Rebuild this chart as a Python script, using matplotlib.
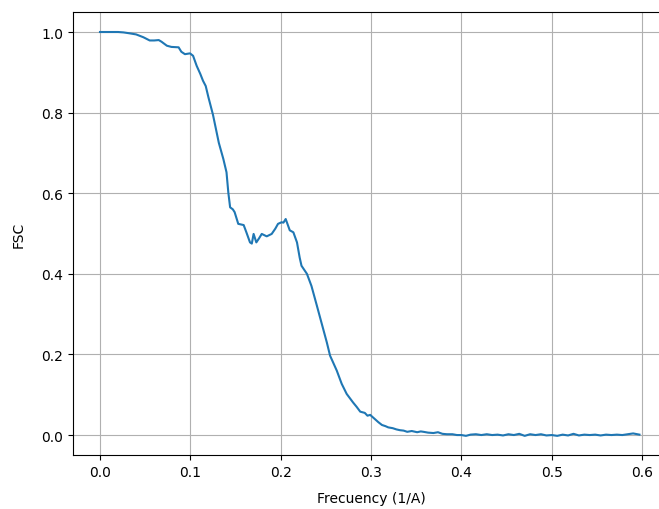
import matplotlib
matplotlib.use('Agg')
import matplotlib.pyplot as plt

# FSC curve
freq = [0.000, 0.010, 0.020, 0.026, 0.032, 0.040, 0.048, 0.055, 0.060, 0.065,
        0.068, 0.074, 0.079, 0.087, 0.090, 0.094, 0.0996, 0.103, 0.107, 0.111,
        0.114, 0.117, 0.120, 0.125, 0.129, 0.1315, 0.1365, 0.140, 0.142, 0.144,
        0.147, 0.149, 0.153, 0.159, 0.162, 0.166, 0.168, 0.170, 0.173, 0.176,
        0.179, 0.1845, 0.188, 0.190, 0.194, 0.197, 0.201, 0.203, 0.2055, 0.208,
        0.210, 0.214, 0.218, 0.221, 0.223, 0.229, 0.234, 0.237, 0.240, 0.245,
        0.248, 0.251, 0.2546, 0.258, 0.262, 0.2675, 0.273, 0.277, 0.280, 0.284,
        0.288, 0.293, 0.296, 0.299, 0.304, 0.308, 0.312, 0.316, 0.319, 0.324,
        0.328, 0.332, 0.336, 0.340, 0.345, 0.351, 0.355, 0.358, 0.363, 0.369,
        0.374, 0.379, 0.384, 0.390, 0.395, 0.400, 0.405, 0.410, 0.416, 0.422,
        0.428, 0.434, 0.440, 0.446, 0.452, 0.458, 0.464, 0.470, 0.476, 0.482,
        0.488, 0.494, 0.500, 0.506, 0.512, 0.518, 0.524, 0.530, 0.536, 0.542,
        0.548, 0.554, 0.560, 0.566, 0.572, 0.578, 0.584, 0.590, 0.597]
fsc = [1.000, 1.000, 1.000, 0.999, 0.997, 0.994, 0.987, 0.979, 0.979, 0.980,
       0.976, 0.966, 0.963, 0.962, 0.951, 0.945, 0.947, 0.941, 0.916, 0.896,
       0.879, 0.866, 0.838, 0.795, 0.752, 0.725, 0.685, 0.652, 0.602, 0.565,
       0.560, 0.553, 0.524, 0.521, 0.503, 0.478, 0.475, 0.499, 0.478, 0.488,
       0.499, 0.493, 0.497, 0.499, 0.512, 0.524, 0.528, 0.527, 0.536, 0.520,
       0.508, 0.503, 0.478, 0.440, 0.420, 0.400, 0.370, 0.345, 0.321, 0.280,
       0.255, 0.230, 0.197, 0.180, 0.160, 0.127, 0.102, 0.090, 0.081, 0.070,
       0.058, 0.055, 0.048, 0.050, 0.040, 0.032, 0.025, 0.022, 0.019, 0.017,
       0.014, 0.012, 0.011, 0.008, 0.010, 0.007, 0.009, 0.008, 0.006, 0.005,
       0.007, 0.003, 0.002, 0.002, 0.000, 0.000, -0.002, 0.001, 0.002, 0.000,
       0.002, 0.000, 0.001, -0.001, 0.002, 0.000, 0.003, -0.002, 0.002, 0.000,
       0.002, -0.001, 0.000, -0.002, 0.001, -0.001, 0.003, -0.001, 0.001, 0.000,
       0.001, -0.001, 0.001, 0.000, 0.001, 0.000, 0.002, 0.004, 0.001]

fig = plt.figure(figsize=(6.59, 5.10), dpi=100)
# the original was cropped on the right, so the axes run past the figure edge
ax = fig.add_axes([0.1106, 0.1055, 0.905, 0.8693])
ax.plot(freq, fsc)
ax.set_xlim(-0.03, 0.63)
ax.set_ylim(-0.05, 1.05)
ax.set_xlabel('Frecuency (1/A)', labelpad=9)
ax.set_ylabel('FSC', labelpad=11)
ax.grid(True)
fig.savefig('out.png', dpi=100)
